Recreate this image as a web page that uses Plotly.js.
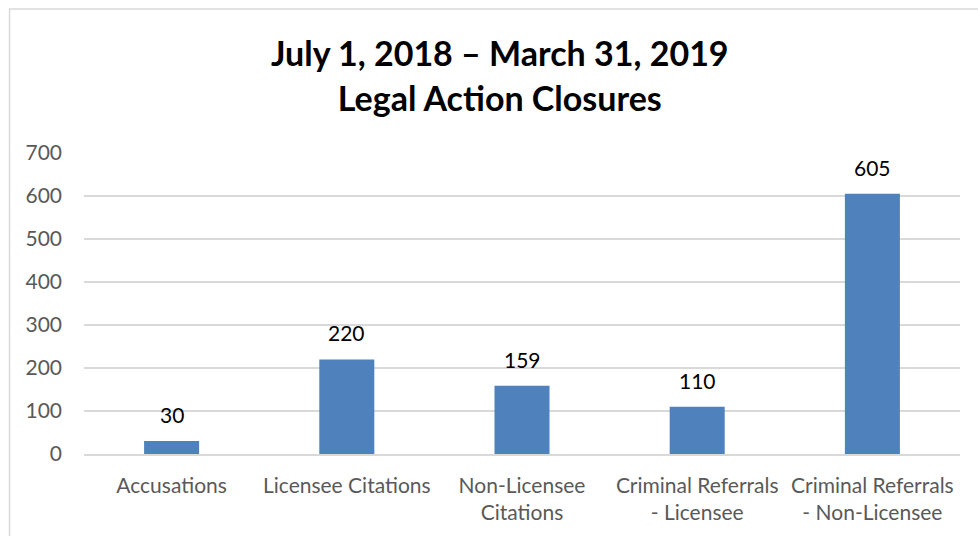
<!DOCTYPE html>
<html>
<head>
<meta charset="utf-8">
<script src="https://cdn.plot.ly/plotly-3.0.1.min.js"></script>
<style>html,body{margin:0;padding:0;background:#fff;}#chart{width:978px;height:536px;}</style>
</head>
<body>
<div id="chart"></div>
<script>
const categories = ["Accusations", "Licensee Citations", "Non-Licensee<br>Citations", "Criminal Referrals<br>- Licensee", "Criminal Referrals<br>- Non-Licensee"];
const values = [30, 220, 159, 110, 605];
const yTicks = [0, 100, 200, 300, 400, 500, 600, 700];

const FONT = "Lato, 'Open Sans', sans-serif";

const trace = {
  type: 'bar',
  x: categories,
  y: values,
  marker: {color: '#4f81bd'},
  hoverinfo: 'skip'
};

const annotations = categories.map((c, i) => ({
  x: c, y: values[i], xref: 'x', yref: 'y',
  text: String(values[i]), showarrow: false,
  yanchor: 'bottom', yshift: 12,
  font: {family: FONT, size: 21, color: '#000'}
}));

const layout = {
  width: 978, height: 536,
  margin: {l: 84, r: 18, t: 153, b: 82, pad: 0},
  paper_bgcolor: '#fff', plot_bgcolor: '#fff',
  bargap: 0.686,
  showlegend: false,
  title: {
    text: '<b>July 1, 2018 – March 31, 2019<br>Legal Action Closures</b>',
    font: {family: FONT, size: 34, color: '#000'},
    xref: 'container', x: 0.511, xanchor: 'center',
    yref: 'container', y: 0.876, yanchor: 'top'
  },
  xaxis: {
    type: 'category',
    showgrid: false,
    showline: true, linecolor: '#d9d9d9', linewidth: 1.5,
    ticks: '',
    ticklabelstandoff: 12,
    tickfont: {family: FONT, size: 21, color: '#595959'},
    fixedrange: true
  },
  yaxis: {
    range: [0, 700],
    tickvals: yTicks,
    ticktext: yTicks.map(String),
    showgrid: true, gridcolor: '#d9d9d9', gridwidth: 1.5,
    zeroline: false, showline: false,
    ticks: '',
    ticklabelstandoff: 21,
    tickfont: {family: FONT, size: 21, color: '#595959'},
    fixedrange: true
  },
  annotations: annotations,
  shapes: [{
    type: 'rect', xref: 'paper', yref: 'paper',
    x0: -76/894, x1: 1.1, y0: -0.5, y1: 1 + 144/301,
    line: {color: '#d9d9d9', width: 1.5}, fillcolor: 'rgba(0,0,0,0)', layer: 'below'
  }]
};

Plotly.newPlot('chart', [trace], layout, {displayModeBar: false, staticPlot: true});
</script>
</body>
</html>
